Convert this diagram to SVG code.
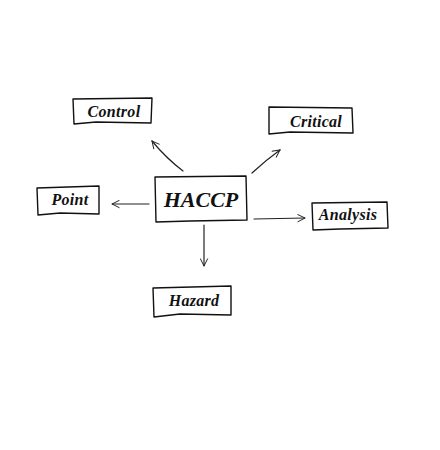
<svg xmlns="http://www.w3.org/2000/svg" width="440" height="450" viewBox="0 0 440 450">
<defs>
<style>
.box{fill:#fff;stroke:#111;stroke-width:1.4;stroke-linejoin:round}
.lbl{font-family:"Liberation Serif","Times New Roman",serif;font-weight:bold;font-style:italic;font-size:16px;letter-spacing:0.3px;fill:#111;text-anchor:middle}
.big{font-size:22px;letter-spacing:0}
.con{fill:none;stroke:#222;stroke-width:1.2;stroke-linecap:round}
</style>
<marker id="ah" viewBox="0 0 12 12" refX="11" refY="6" markerWidth="9" markerHeight="9" markerUnits="userSpaceOnUse" orient="auto">
<path d="M1,1 L11,6 L1,11" fill="none" stroke="#222" stroke-width="1.3"/>
</marker>
</defs>
<rect width="440" height="450" fill="#fff"/>
<g id="connectors">
<path class="con" d="M183,171 Q166,158 152,141" marker-end="url(#ah)"/>
<path class="con" d="M252,173 Q266,160 280,150" marker-end="url(#ah)"/>
<path class="con" d="M149,204 L112,204" marker-end="url(#ah)"/>
<path class="con" d="M254,219 L305,218" marker-end="url(#ah)"/>
<path class="con" d="M204,225 L204,266" marker-end="url(#ah)"/>
</g>
<g id="node-control">
<path class="box" d="M73,99 L152,98 L151,123 L96,122 L74,124 Z"/>
<text class="lbl" x="114" y="117">Control</text>
</g>
<g id="node-critical">
<path class="box" d="M269,107 L352,108 L353,133 L290,132 L269,134 Z"/>
<text class="lbl" x="316" y="127">Critical</text>
</g>
<g id="node-point">
<path class="box" d="M37,188 L99,186 L99,214 L60,213 L38,215 Z"/>
<text class="lbl" x="70" y="205">Point</text>
</g>
<g id="node-haccp">
<path class="box" d="M155,177 L246,176 L247,220 L190,221 L156,222 Z"/>
<text class="lbl big" x="201" y="207">HACCP</text>
</g>
<g id="node-analysis">
<path class="box" d="M312,203 L387,202 L388,228 L340,229 L313,230 Z"/>
<text class="lbl" x="348" y="220">Analysis</text>
</g>
<g id="node-hazard">
<path class="box" d="M153,288 L231,286 L231,315 L180,314 L154,317 Z"/>
<text class="lbl" x="194" y="306">Hazard</text>
</g>
</svg>
